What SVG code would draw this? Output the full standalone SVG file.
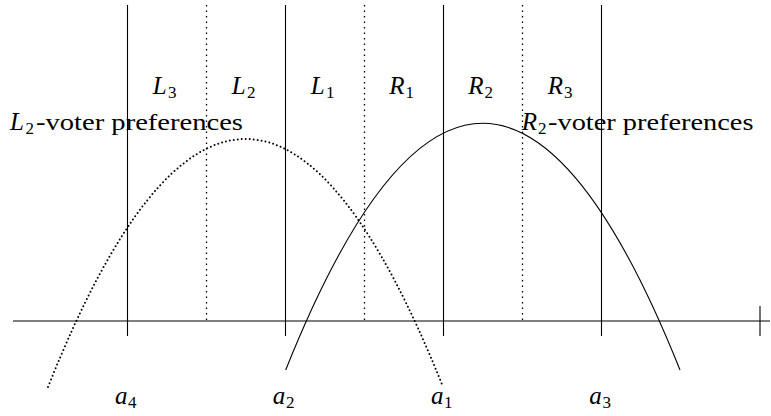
<svg xmlns="http://www.w3.org/2000/svg" width="771" height="416" viewBox="0 0 771 416">
<style>
.sol{stroke:#000;stroke-width:1.1;fill:none}
.vdot{stroke:#000;stroke-width:1.3;fill:none;stroke-dasharray:1.4 4.1}
.cdot{stroke:#000;stroke-width:2;fill:none;stroke-dasharray:0 4;stroke-linecap:round}
.tx{font-family:"Liberation Serif","Times New Roman",serif;fill:#000}
.it{font-style:italic;font-size:25px}
.sub{font-size:17px}
.rm{font-size:24px}
</style>
<rect width="771" height="416" fill="#fff"/>
<g id="axes">
<line class="sol" x1="13" y1="321" x2="770" y2="321"/>
<line class="sol" x1="127.5" y1="5" x2="127.5" y2="336"/>
<line class="sol" x1="285.5" y1="5" x2="285.5" y2="336"/>
<line class="sol" x1="443.5" y1="5" x2="443.5" y2="336"/>
<line class="sol" x1="601.5" y1="5" x2="601.5" y2="336"/>
<line class="sol" x1="760" y1="306" x2="760" y2="336"/>
<line class="vdot" x1="206.5" y1="5" x2="206.5" y2="321"/>
<line class="vdot" x1="364.5" y1="5" x2="364.5" y2="321"/>
<line class="vdot" x1="522.5" y1="5" x2="522.5" y2="321"/>
</g>
<g id="connectors">
<path id="L2-curve" class="cdot" d="M48,387 Q245.5,-109 443,387"/>
<path id="R2-curve" class="sol" d="M285.7,370 Q482.8,-123.4 680,370"/>
</g>
<g class="tx">
<g id="region-labels">
<g id="L3"><text class="tx it" x="152.7" y="94">L</text><text class="tx sub" x="168" y="98">3</text></g>
<g id="L2"><text class="tx it" x="231.7" y="94">L</text><text class="tx sub" x="247" y="98">2</text></g>
<g id="L1"><text class="tx it" x="310.7" y="94">L</text><text class="tx sub" x="326" y="98">1</text></g>
<g id="R1"><text class="tx it" x="389.3" y="94">R</text><text class="tx sub" x="405.5" y="98">1</text></g>
<g id="R2"><text class="tx it" x="468.3" y="94">R</text><text class="tx sub" x="484.5" y="98">2</text></g>
<g id="R3"><text class="tx it" x="547.7" y="94">R</text><text class="tx sub" x="564" y="98">3</text></g>
</g>
<g id="L2-pref-label">
<text class="tx it" x="10" y="129.5">L</text><text class="tx sub" x="25.5" y="133.5">2</text>
<text class="tx rm" x="36" y="129.5" textLength="207" lengthAdjust="spacingAndGlyphs">-voter preferences</text>
</g>
<g id="R2-pref-label">
<text class="tx it" x="521.7" y="129.5">R</text><text class="tx sub" x="538" y="133.5">2</text>
<text class="tx rm" x="548" y="129.5" textLength="205.5" lengthAdjust="spacingAndGlyphs">-voter preferences</text>
</g>
<g id="point-labels">
<g id="a4"><text class="tx it" x="115" y="404">a</text><text class="tx sub" x="128" y="408">4</text></g>
<g id="a2"><text class="tx it" x="272.7" y="404">a</text><text class="tx sub" x="286" y="408">2</text></g>
<g id="a1"><text class="tx it" x="431" y="404">a</text><text class="tx sub" x="444" y="408">1</text></g>
<g id="a3"><text class="tx it" x="589.3" y="404">a</text><text class="tx sub" x="602.5" y="408">3</text></g>
</g>
</g>
</svg>
